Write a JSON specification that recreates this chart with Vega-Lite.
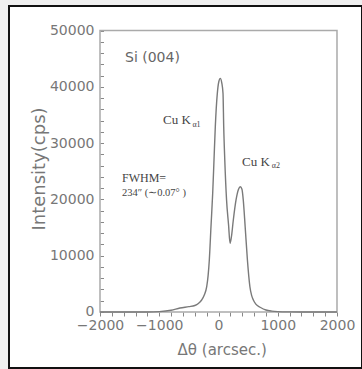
{
  "$schema": "https://vega.github.io/schema/vega-lite/v6.json",
  "width": 353,
  "height": 362,
  "autosize": "none",
  "padding": {"left": 9, "top": 6, "right": 0, "bottom": 1},
  "background": "#efefef",
  "config": {"view": {"stroke": "#111", "strokeWidth": 2, "fill": "white"}},
  "datasets": {
    "curve": [
      {"x": -2000, "y": 0}, {"x": -1500, "y": 0}, {"x": -1200, "y": 0}, {"x": -1000, "y": 60},
      {"x": -800, "y": 300}, {"x": -650, "y": 700}, {"x": -500, "y": 950}, {"x": -400, "y": 1150},
      {"x": -340, "y": 1500}, {"x": -284, "y": 2130}, {"x": -240, "y": 3000}, {"x": -199, "y": 4490},
      {"x": -175, "y": 6500}, {"x": -155, "y": 9235}, {"x": -127, "y": 15150}, {"x": -98, "y": 21080},
      {"x": -76, "y": 27000}, {"x": -54, "y": 32910}, {"x": -20, "y": 38840}, {"x": 5, "y": 40900},
      {"x": 30, "y": 41500}, {"x": 55, "y": 40700}, {"x": 76, "y": 38840}, {"x": 88, "y": 32910},
      {"x": 106, "y": 27000}, {"x": 136, "y": 19900}, {"x": 170, "y": 15450}, {"x": 195, "y": 12200},
      {"x": 220, "y": 13500}, {"x": 250, "y": 16340}, {"x": 296, "y": 19900}, {"x": 338, "y": 21800},
      {"x": 368, "y": 22250}, {"x": 396, "y": 21800}, {"x": 418, "y": 19900}, {"x": 450, "y": 15150},
      {"x": 488, "y": 9235}, {"x": 530, "y": 4490}, {"x": 560, "y": 2900}, {"x": 588, "y": 2130},
      {"x": 630, "y": 1400}, {"x": 710, "y": 800}, {"x": 800, "y": 350}, {"x": 900, "y": 150},
      {"x": 1000, "y": 70}, {"x": 1200, "y": 20}, {"x": 1500, "y": 0}, {"x": 2000, "y": 0}
    ],
    "frame": [{"x": -2000, "x2": 2000, "y": 0, "y2": 50000}],
    "sans": [{"x": -1578, "y": 45110, "t": "Si (004)"}],
    "cu": [{"x": -937, "y": 34100, "t": "Cu K"}, {"x": 397, "y": 26640, "t": "Cu K"}],
    "sub": [{"x": -440, "y": 33300, "t": "α1"}, {"x": 900, "y": 25850, "t": "α2"}],
    "fw": [{"x": -1629, "y": 23800, "t": "FWHM="}],
    "fw2": [{"x": -1629, "y": 21130, "t": "234″ (∼0.07°  )"}]
  },
  "encoding": {
    "x": {
      "field": "x", "type": "quantitative",
      "scale": {"domain": [-3536, 2422], "nice": false, "zero": false},
      "axis": {
        "title": "Δθ (arcsec.)",
        "values": [-2000,-1800,-1600,-1400,-1200,-1000,-800,-600,-400,-200,0,200,400,600,800,1000,1200,1400,1600,1800,2000],
        "labelExpr": "datum.value % 1000 === 0 ? datum.label : ''",
        "format": "d",
        "offset": -56, "domain": false, "grid": false,
        "tickSize": 4, "tickColor": "#888", "tickWidth": 1,
        "labelPadding": 2, "labelFont": "DejaVu Sans", "labelFontSize": 14, "labelColor": "#777",
        "labelFlush": false, "labelOverlap": false,
        "titleFont": "DejaVu Sans", "titleFontSize": 15, "titleColor": "#777", "titleFontWeight": "normal",
        "titleX": 212.7, "titleY": 37, "titleBaseline": "middle", "titleAlign": "center"
      }
    },
    "y": {
      "field": "y", "type": "quantitative",
      "scale": {"domain": [-9947, 54352], "nice": false, "zero": false},
      "axis": {
        "title": "Intensity(cps)",
        "values": [0,2000,4000,6000,8000,10000,12000,14000,16000,18000,20000,22000,24000,26000,28000,30000,32000,34000,36000,38000,40000,42000,44000,46000,48000,50000],
        "labelExpr": "datum.value % 10000 === 0 ? datum.label : ''",
        "format": "d",
        "offset": -91, "domain": false, "grid": false,
        "tickSize": -3.5, "tickColor": "#888", "tickWidth": 1,
        "labelPadding": 9.5, "labelFont": "DejaVu Sans", "labelFontSize": 14, "labelColor": "#777",
        "labelFlush": false, "labelOverlap": false, "labelBaseline": "middle",
        "titleFont": "DejaVu Sans", "titleFontSize": 18, "titleColor": "#777", "titleFontWeight": "normal",
        "titleX": -61, "titleY": 162.5, "titleBaseline": "middle", "titleAlign": "center", "titleAngle": -90
      }
    }
  },
  "layer": [
    {
      "data": {"name": "frame"},
      "mark": {"type": "rect", "fill": null, "stroke": "#aaa", "strokeWidth": 1.5},
      "encoding": {"x2": {"field": "x2"}, "y2": {"field": "y2"}}
    },
    {
      "data": {"name": "curve"},
      "mark": {"type": "line", "interpolate": "monotone", "color": "#7a7a7a", "strokeWidth": 1.4},
      "encoding": {}
    },
    {
      "data": {"name": "sans"},
      "mark": {"type": "text", "align": "left", "baseline": "middle", "font": "DejaVu Sans", "fontSize": 14, "color": "#666"},
      "encoding": {"text": {"field": "t"}}
    },
    {
      "data": {"name": "cu"},
      "mark": {"type": "text", "align": "left", "baseline": "middle", "font": "Liberation Serif", "fontSize": 13, "color": "#444"},
      "encoding": {"text": {"field": "t"}}
    },
    {
      "data": {"name": "sub"},
      "mark": {"type": "text", "align": "left", "baseline": "middle", "font": "Liberation Serif", "fontSize": 8, "color": "#444"},
      "encoding": {"text": {"field": "t"}}
    },
    {
      "data": {"name": "fw"},
      "mark": {"type": "text", "align": "left", "baseline": "middle", "font": "Liberation Serif", "fontSize": 12, "color": "#444"},
      "encoding": {"text": {"field": "t"}}
    },
    {
      "data": {"name": "fw2"},
      "mark": {"type": "text", "align": "left", "baseline": "middle", "font": "Liberation Serif", "fontSize": 10.5, "color": "#444"},
      "encoding": {"text": {"field": "t"}}
    }
  ]
}
